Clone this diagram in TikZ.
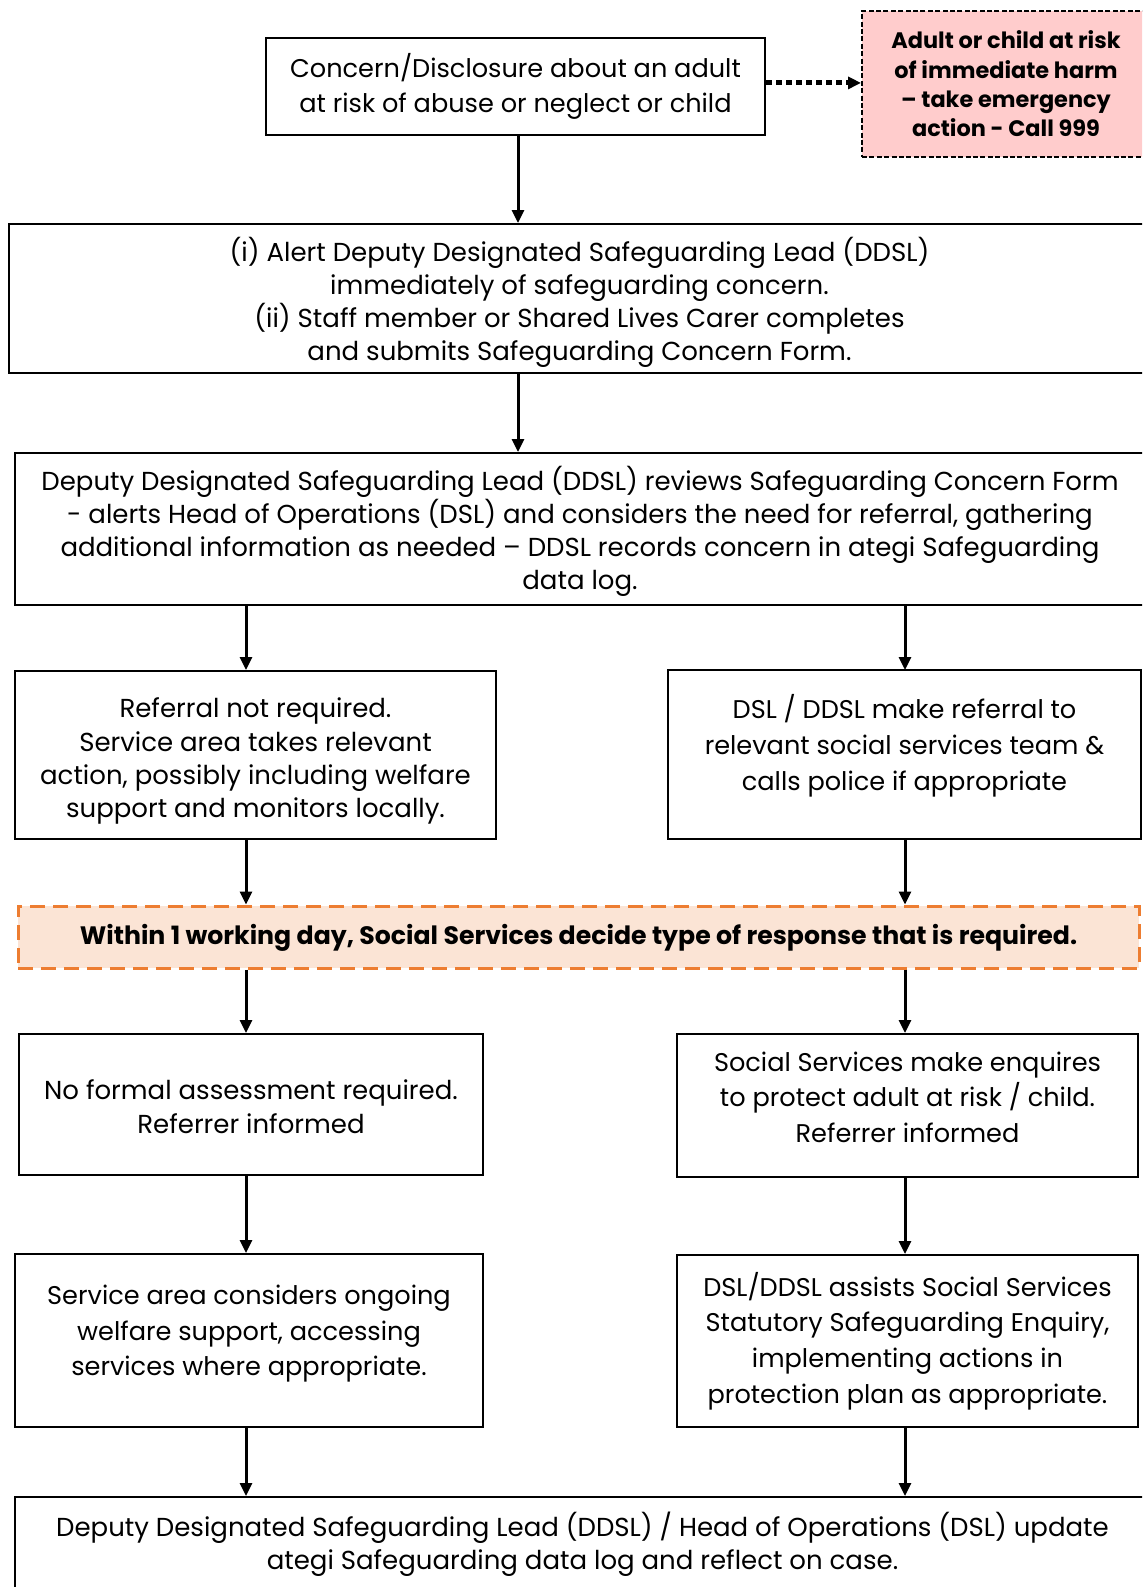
\documentclass[tikz,border=0pt]{standalone}
\usepackage{fontspec}
\setmainfont{Poppins}
\usetikzlibrary{arrows.meta}
\newcommand{\textdrop}[1]{\rule{0pt}{#1}}
\newcommand{\textlift}[1]{\rule[-#1]{0pt}{0pt}}

\begin{document}
\begin{tikzpicture}[
    x = 0.5pt, y = -0.5pt,
    box/.style = {draw, line width = 1pt, align = center, inner sep = 0pt,
        font = \fontsize{13pt}{16.6pt}\selectfont},
    bigbox/.style = {box, font = \fontsize{12.8pt}{17.8pt}\selectfont},
    riskbox/.style = {box, dash pattern = on 2.5pt off 1.2pt, fill = riskpink,
        font = \fontsize{11.2pt}{14.7pt}\selectfont\bfseries},
    daybox/.style = {box, line width = 1.5pt, draw = dayorange, fill = daypeach,
        dash pattern = on 7.5pt off 4pt, font = \fontsize{12.6pt}{15pt}\selectfont\bfseries},
    arrow/.style = {line width = 1.5pt, -{Triangle[length = 6.5pt, width = 6pt]}},
    dotarrow/.style = {arrow, line width = 2.5pt, dash pattern = on 3pt off 2pt}
]
\definecolor{riskpink}{HTML}{FFCCCC}
\definecolor{dayorange}{HTML}{ED7D31}
\definecolor{daypeach}{HTML}{FBE4D5}

\useasboundingbox (0,0) rectangle (1142,1587);
\clip (0,0) rectangle (1142,1587);

\coordinate (mcol) at (518,0);
\coordinate (lcol) at (246,0);
\coordinate (rcol) at (905,0);

\node [bigbox, minimum width = 249.5pt, minimum height = 48.5pt] (concern) at (515.5,86.5)
    {Concern/Disclosure about an adult\\at risk of abuse or neglect or child};
\node [riskbox, minimum width = 144pt, minimum height = 73pt] (emergency) at (1006,84)
    {Adult or child at risk\\of immediate harm\\-- take emergency\\action - Call 999};
\node [box, minimum width = 570.5pt, minimum height = 74.5pt] (alert) at (579.5,298.5)
    {\textdrop{16pt}(i) Alert Deputy Designated Safeguarding Lead (DDSL)\\immediately of safeguarding concern.\\(ii) Staff member or Shared Lives Carer completes\\and submits Safeguarding Concern Form.};
\node [box, minimum width = 565pt, minimum height = 76pt] (review) at (580,529)
    {\textdrop{14.5pt}Deputy Designated Safeguarding Lead (DDSL) reviews Safeguarding Concern Form\\- alerts Head of Operations (DSL) and considers the need for referral, gathering\\additional information as needed -- DDSL records concern in ategi Safeguarding\\data log.};
\node [box, minimum width = 240.5pt, minimum height = 84pt] (noref) at (255.5,755)
    {\textdrop{16pt}Referral not required.\\Service area takes relevant\\action, possibly including welfare\\support and monitors locally.};
\node [bigbox, minimum width = 236.5pt, minimum height = 84.5pt] (referral) at (904.5,754.5)
    {DSL / DDSL make referral to\\relevant social services team \&\\calls police if appropriate\textlift{12pt}};
\node [daybox, minimum width = 560.5pt, minimum height = 31pt] (decide) at (578.5,937)
    {\textdrop{11pt}Within 1 working day, Social Services decide type of response that is required.};
\node [box, minimum width = 232pt, minimum height = 70.5pt] (noassess) at (251,1104.5)
    {\textdrop{12pt}No formal assessment required.\\Referrer informed};
\node [bigbox, minimum width = 230.5pt, minimum height = 71.5pt] (enquire) at (907.5,1105.5)
    {Social Services make enquires\\to protect adult at risk / child.\\Referrer informed\textlift{8.5pt}};
\node [bigbox, minimum width = 234pt, minimum height = 86.5pt] (welfare) at (249,1340.5)
    {Service area considers ongoing\\welfare support, accessing\\services where appropriate.\textlift{10pt}};
\node [bigbox, minimum width = 230.5pt, minimum height = 86pt] (assist) at (907.5,1341)
    {DSL/DDSL assists Social Services\\Statutory Safeguarding Enquiry,\\implementing actions in\\protection plan as appropriate.};
\node [box, minimum width = 567.5pt, minimum height = 47pt] (update) at (582.5,1544)
    {Deputy Designated Safeguarding Lead (DDSL) / Head of Operations (DSL) update\\ategi Safeguarding data log and reflect on case.};

\draw [dotarrow] ([yshift = 1.8pt]concern.east) -- ([yshift = 1.8pt]concern.east -| emergency.west);
\draw [arrow] (concern.south -| mcol) -- (alert.north -| mcol);
\draw [arrow] (alert.south -| mcol) -- (review.north -| mcol);
\foreach \col in {lcol, rcol}
    \draw [arrow] (review.south -| \col) -- (noref.north -| \col);
\draw [arrow] (noref.south -| lcol) -- (decide.north -| lcol);
\draw [arrow] (referral.south -| rcol) -- (decide.north -| rcol);
\draw [arrow] (decide.south -| lcol) -- (noassess.north -| lcol);
\draw [arrow] (decide.south -| rcol) -- (enquire.north -| rcol);
\draw [arrow] (noassess.south -| lcol) -- (welfare.north -| lcol);
\draw [arrow] (enquire.south -| rcol) -- (assist.north -| rcol);
\draw [arrow] (welfare.south -| lcol) -- (update.north -| lcol);
\draw [arrow] (assist.south -| rcol) -- (update.north -| rcol);
\end{tikzpicture}
\end{document}
